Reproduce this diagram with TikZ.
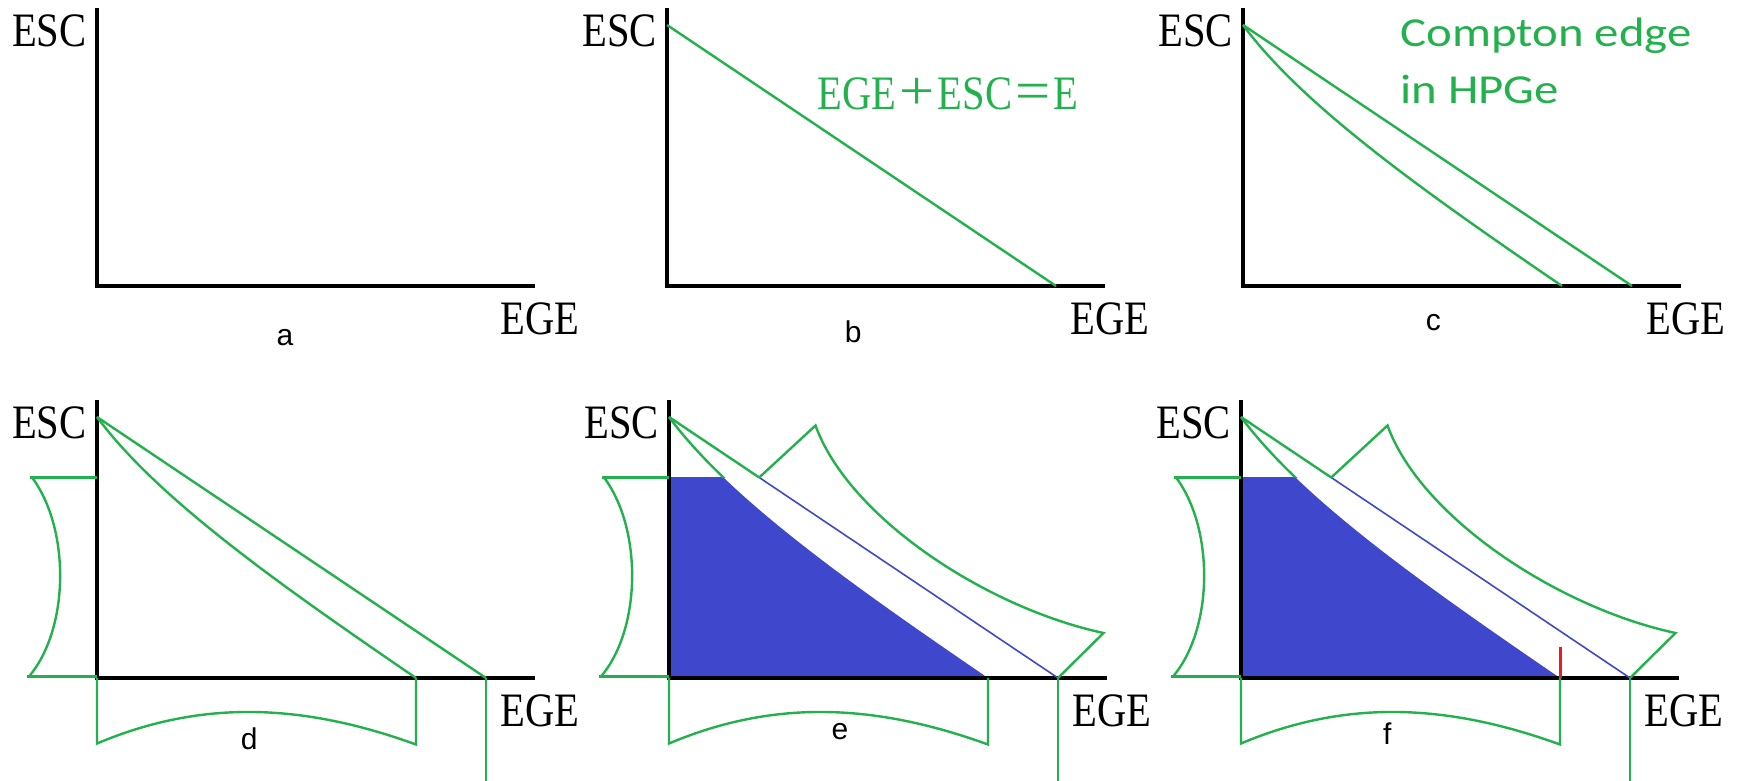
\documentclass[tikz,border=0pt]{standalone}
\usepackage{fontspec}
\setmainfont{Liberation Serif}
\newfontfamily\labfont{Liberation Sans}
\newfontfamily\annfont{Carlito}
\usetikzlibrary{calc}
\definecolor{pgreen}{RGB}{34,177,76}
\definecolor{pblue}{RGB}{63,72,204}
\definecolor{pred}{RGB}{237,28,36}
\newcommand{\axtext}[1]{\scalebox{0.845}[1]{#1}}
\newcommand{\bigop}[1]{\kern1.5pt\scalebox{1.3}[1.15]{#1}\kern1.5pt}
\newcommand{\drawaxes}[1]{%
  \draw[axis] (0,278) -- (0,0) -- (438,0);
  \node[axlabel, anchor=base east] (esc#1) at (-10,239) {\axtext{ESC}};
  \node[axlabel, anchor=base west] (ege#1) at (403,-49) {\axtext{EGE}};
}
\newcommand{\lowerbrackets}{%
  % left bracket on ESC axis
  \draw[gline] (-67,200.5) -- (0,200.5);
  \draw[gline] (-70,1.5) -- (0,1.5);
  \draw[gline] (-65,200.5) .. controls (-27,150) and (-27,50) .. (-68,1.5);
  % bottom bracket on EGE axis
  \draw[gline] (0,0) -- (0,-65.5) .. controls (100,-23.3) and (200,-23.3) .. (319,-66.5) -- (319,0);
  % vertical line at the sum energy
  \draw[gline] (389,0) -- (389,-104);
}
\newcommand{\bluepart}{%
  \begin{scope}
    \clip (0,-2) rectangle (440,200.5);
    \fill[pblue] (0,0) -- (0,261) .. controls (60,180) and (180,95) .. (319,0) -- cycle;
  \end{scope}
}
\newcommand{\upperpart}{%
  \begin{scope}
    \clip (-5,200.5) rectangle (100,270);
    \draw[gline] (0,261) .. controls (60,180) and (180,95) .. (319,0);
  \end{scope}
  \draw[gline] (0,261) -- (90.2,200.5);
  \draw[bline] (90.2,200.5) -- (389,0);
  \draw[gline] (90.2,200.5) -- (146.5,252.5) .. controls (180,160) and (318,70) .. (434.5,45) -- (389,0);
}
\begin{document}
\begin{tikzpicture}[x=0.5pt,y=0.5pt,
  axis/.style={line width=2pt, black},
  gline/.style={line width=1.2pt, pgreen},
  bline/.style={line width=0.8pt, pblue},
  axlabel/.style={inner sep=0pt, font=\fontsize{24}{24}\selectfont},
  panlabel/.style={inner sep=0pt, anchor=base, font=\labfont\fontsize{15}{15}\selectfont},
  ann/.style={inner sep=0pt, anchor=base west, text=pgreen, font=\annfont\fontsize{20}{20}\selectfont},
  eqlabel/.style={inner sep=0pt, anchor=base west, text=pgreen, font=\fontsize{24}{24}\selectfont},
]
\useasboundingbox (0,0) rectangle (1745,781);

% ---- panel a
\begin{scope}[shift={(97,495)}]
  \drawaxes{a}
\end{scope}

% ---- panel b
\begin{scope}[shift={(667,495)}]
  \drawaxes{b}
  \draw[gline] (0,261) -- (389,0);
\end{scope}

% ---- panel c
\begin{scope}[shift={(1243,495)}]
  \drawaxes{c}
  \draw[gline] (0,261) -- (389,0);
  \draw[gline] (0,261) .. controls (60,180) and (180,95) .. (319,0);
\end{scope}

% ---- panel d
\begin{scope}[shift={(97,103)}]
  \drawaxes{d}
  \draw[gline] (0,261) -- (389,0);
  \draw[gline] (0,261) .. controls (60,180) and (180,95) .. (319,0);
  \lowerbrackets
\end{scope}

% ---- panel e
\begin{scope}[shift={(669,103)}]
  \bluepart
  \drawaxes{e}
  \upperpart
  \lowerbrackets
\end{scope}

% ---- panel f
\begin{scope}[shift={(1241,103)}]
  \bluepart
  \drawaxes{f}
  \upperpart
  \lowerbrackets
  \draw[line width=1.5pt, pred] (319,0) -- (319,31);
\end{scope}

% ---- panel letters
\node[panlabel] (la) at (285,435.3) {a};
\node[panlabel] (lb) at (853.3,438.7) {b};
\node[panlabel] (lc) at (1433.3,450.3) {c};
\node[panlabel] (ld) at (249.3,31) {d};
\node[panlabel] (le) at (840,41) {e};
\node[panlabel] (lf) at (1387.3,36) {f};

% ---- green annotations
\node[eqlabel] (eq) at (817.5,671) {\axtext{EGE}\bigop{+}\axtext{ESC}\bigop{=}\axtext{E}};
\node[ann] (ce1) at (1400,734.3) {\scalebox{1.22}[1.03]{Compton edge}};
\node[ann] (ce2) at (1400,677.7) {\scalebox{1.22}[1.03]{in HPGe}};
\end{tikzpicture}
\end{document}
